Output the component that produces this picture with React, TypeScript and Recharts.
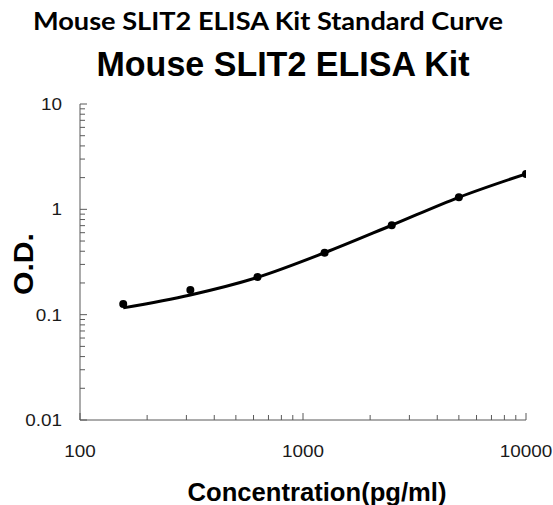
import React from "react";
import { ComposedChart, Line, Scatter, XAxis, YAxis } from "recharts";

// standard concentrations (pg/ml) and measured O.D.
const concentrations = [156.25, 312.5, 625, 1250, 2500, 5000, 10000];
const odValues = [0.126, 0.171, 0.228, 0.387, 0.706, 1.3, 2.17];

// fitted curve at the same concentrations
const curveConc = [156.25, 312.5, 625, 1250, 2500, 5000, 10000];
const curveOd = [0.116, 0.154, 0.226, 0.387, 0.706, 1.3, 2.17];

const xMajorTicks = [100, 1000, 10000];
const xMinorTicks = [200, 300, 400, 500, 600, 700, 800, 900, 2000, 3000, 4000, 5000, 6000, 7000, 8000, 9000];
const yMajorTicks = [0.01, 0.1, 1, 10];
const yMinorTicks = [0.02, 0.03, 0.04, 0.05, 0.06, 0.07, 0.08, 0.09, 0.2, 0.3, 0.4, 0.5, 0.6, 0.7, 0.8, 0.9, 2, 3, 4, 5, 6, 7, 8, 9];
const yTickLabels = ["0.01", "0.1", "1", "10"];

const points = concentrations.map((x, i) => ({ x, y: odValues[i] }));
const curve = curveConc.map((x, i) => ({ x, y: curveOd[i] }));

const AXIS_COLOR = "#595959";
const LABEL_COLOR = "#1a1a1a";
const ARIAL = "'Liberation Sans', Arial, sans-serif";
const TICK_FONT = 16;
// the original picture is a bit stretched sideways
const STRETCH = 1.18;

// width of a numeric label in Arial metrics, stretched
function labelWidth(s: string) {
  let w = 0;
  for (const c of s) w += c === "." ? 0.278 : 0.556;
  return w * TICK_FONT * STRETCH;
}

function XTick(props: any) {
  const { x, y, payload } = props;
  const major = xMajorTicks.includes(payload.value);
  const label = String(payload.value);
  return (
    <g>
      <line x1={x} x2={x} y1={y} y2={y - (major ? 7 : 5)} stroke={AXIS_COLOR} strokeWidth={1} />
      {major && (
        <text
          x={x}
          y={y + 37}
          textAnchor="middle"
          fontSize={TICK_FONT}
          fontFamily={ARIAL}
          fill={LABEL_COLOR}
          textLength={labelWidth(label)}
          lengthAdjust="spacingAndGlyphs"
        >
          {label}
        </text>
      )}
    </g>
  );
}

function YTick(props: any) {
  const { x, y, payload } = props;
  const idx = yMajorTicks.indexOf(payload.value);
  const major = idx >= 0;
  return (
    <g>
      <line x1={x} x2={x + (major ? 7 : 5)} y1={y} y2={y} stroke={AXIS_COLOR} strokeWidth={1} />
      {major && (
        <text
          x={x - 18}
          y={y + 6}
          textAnchor="end"
          fontSize={TICK_FONT}
          fontFamily={ARIAL}
          fill={LABEL_COLOR}
          textLength={labelWidth(yTickLabels[idx])}
          lengthAdjust="spacingAndGlyphs"
        >
          {yTickLabels[idx]}
        </text>
      )}
    </g>
  );
}

const Dot = (props: any) => <circle cx={props.cx} cy={props.cy} r={4} fill="#000" />;

export default function App() {
  return (
    <div style={{ position: "absolute", left: 0, top: 0, width: 553, height: 505, background: "#fff" }}>
      <ComposedChart width={553} height={505} margin={{ top: 104, right: 27, left: 0, bottom: 0 }}>
        <XAxis
          type="number"
          dataKey="x"
          scale="log"
          domain={[100, 10000]}
          ticks={[...xMajorTicks, ...xMinorTicks]}
          interval={0}
          allowDataOverflow
          height={85}
          tickSize={0}
          tickMargin={0}
          tickLine={false}
          axisLine={{ stroke: AXIS_COLOR, strokeWidth: 1 }}
          tick={<XTick />}
        />
        <YAxis
          type="number"
          dataKey="y"
          scale="log"
          domain={[0.01, 10]}
          ticks={[...yMajorTicks, ...yMinorTicks]}
          interval={0}
          allowDataOverflow
          width={80}
          tickSize={0}
          tickMargin={0}
          tickLine={false}
          axisLine={{ stroke: AXIS_COLOR, strokeWidth: 1 }}
          tick={<YTick />}
        />
        <Line
          data={curve}
          dataKey="y"
          type="monotone"
          stroke="#000"
          strokeWidth={3}
          dot={false}
          activeDot={false}
          isAnimationActive={false}
        />
        <Scatter data={points} dataKey="y" shape={<Dot />} isAnimationActive={false} />
      </ComposedChart>
      <svg width={553} height={505} style={{ position: "absolute", left: 0, top: 0, pointerEvents: "none" }}>
        <text x={268} y={30} textAnchor="middle" fontSize={24} fontWeight="bold" fontFamily="Lato, 'Open Sans', sans-serif" textLength={470} lengthAdjust="spacingAndGlyphs" fill="#000">
          Mouse SLIT2 ELISA Kit Standard Curve
        </text>
        <text x={283} y={76} textAnchor="middle" fontSize={35} fontWeight="bold" fontFamily={ARIAL} textLength={373} lengthAdjust="spacingAndGlyphs" fill="#000">
          Mouse SLIT2 ELISA Kit
        </text>
        <text x={317} y={501} textAnchor="middle" fontSize={25} fontWeight="bold" fontFamily={ARIAL} textLength={259} lengthAdjust="spacingAndGlyphs" fill="#000">
          Concentration(pg/ml)
        </text>
        <text x={33} y={264} transform="rotate(-90 33 264)" textAnchor="middle" fontSize={28} fontWeight="bold" fontFamily={ARIAL} textLength={62} lengthAdjust="spacingAndGlyphs" fill="#000">
          O.D.
        </text>
      </svg>
    </div>
  );
}
